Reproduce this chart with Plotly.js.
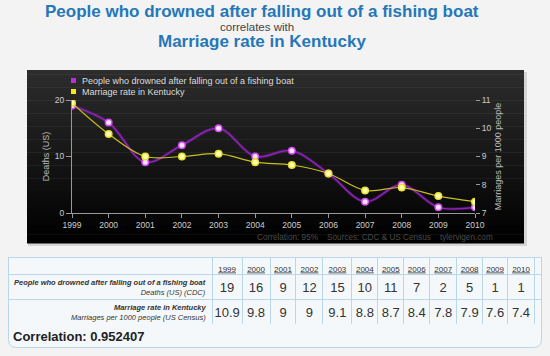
<!DOCTYPE html>
<html><head><meta charset="utf-8">
<script src="https://cdn.plot.ly/plotly-3.0.1.min.js"></script>
<style>html,body{margin:0;padding:0;background:#f3f3f3;overflow:hidden}#chart{width:550px;height:356px}</style>
</head><body><div id="chart"></div>
<script>
// ---- data ----
const years = [1999, 2000, 2001, 2002, 2003, 2004, 2005, 2006, 2007, 2008, 2009, 2010];
const drowned = [19, 16, 9, 12, 15, 10, 11, 7, 2, 5, 1, 1];
const marriage = [10.9, 9.8, 9, 9, 9.1, 8.8, 8.7, 8.4, 7.8, 7.9, 7.6, 7.4];
const seriesNames = ['People who drowned after falling out of a fishing boat', 'Marriage rate in Kentucky'];
const seriesUnits = ['Deaths (US) (CDC)', 'Marriages per 1000 people (US Census)'];
const axisTitles = ['Deaths (US)', 'Marriages per 1000 people'];
const leftTicks = [0, 10, 20];
const rightTicks = [7, 8, 9, 10, 11];
const correlation = 0.952407;
const footer = 'Correlation: 95%\u00a0\u00a0\u00a0 Sources: CDC & US Census\u00a0\u00a0\u00a0 tylervigen.com';

// ---- helpers ----
const W = 550, H = 356;
const px = x => x / W, py = y => 1 - y / H;
const FONT = 'Liberation Sans, Arial, sans-serif';

const shapes = [];
shapes.push({type:'rect', xref:'paper', yref:'paper', x0:px(28), x1:px(527), y0:py(72), y1:py(246),
  fillcolor:'#d6d6d6', line:{width:0}, layer:'below'});
const NB = 40, panelTop = 70, panelBot = 243;
for (let i = 0; i < NB; i++) {
  const y0 = panelTop + (panelBot - panelTop) * i / NB, y1 = panelTop + (panelBot - panelTop) * (i + 1) / NB;
  const t = i / (NB - 1);
  const v = Math.round(44 * (1 - t));
  shapes.push({type:'rect', xref:'paper', yref:'paper', x0:px(27), x1:px(524), y0:py(y1 + 0.5), y1:py(y0),
    fillcolor:`rgb(${v},${v},${v})`, line:{width:0}, layer:'below'});
}
shapes.push({type:'rect', xref:'paper', yref:'paper', x0:px(71), x1:px(76), y0:py(83), y1:py(78),
  fillcolor:'#b52fdc', line:{width:0}});
shapes.push({type:'rect', xref:'paper', yref:'paper', x0:px(71), x1:px(76), y0:py(94), y1:py(89),
  fillcolor:'#f2ea10', line:{width:0}});
function rr(x0, y0, x1, y1, r) {
  const X = px, Y = py;
  return `M ${X(x0 + r)} ${Y(y0)} L ${X(x1 - r)} ${Y(y0)} Q ${X(x1)} ${Y(y0)} ${X(x1)} ${Y(y0 + r)} ` +
    `L ${X(x1)} ${Y(y1 - r)} Q ${X(x1)} ${Y(y1)} ${X(x1 - r)} ${Y(y1)} L ${X(x0 + r)} ${Y(y1)} ` +
    `Q ${X(x0)} ${Y(y1)} ${X(x0)} ${Y(y1 - r)} L ${X(x0)} ${Y(y0 + r)} Q ${X(x0)} ${Y(y0)} ${X(x0 + r)} ${Y(y0)} Z`;
}
shapes.push({type:'path', xref:'paper', yref:'paper', path: rr(8.5, 257.5, 541.5, 347.5, 8),
  fillcolor:'#f5f8fa', line:{color:'#b9d7ea', width:1}, layer:'below'});

const annotations = [
  {text:'<b>' + seriesNames[0] + '</b>', x:px(262), y:py(11), font:{family:FONT, size:17, color:'#2677b8'}},
  {text:'correlates with', x:px(257), y:py(27), font:{family:FONT, size:11.5, color:'#444'}},
  {text:'<b>' + seriesNames[1] + '</b>', x:px(262), y:py(41.5), font:{family:FONT, size:17, color:'#2677b8'}},
  {text:seriesNames[0], x:px(81), y:py(80.5), xanchor:'left', font:{family:FONT, size:9, color:'#dddddd'}},
  {text:seriesNames[1], x:px(81), y:py(91.5), xanchor:'left', font:{family:FONT, size:9, color:'#dddddd'}},
  {text:footer, x:px(494), y:py(237), xanchor:'right', font:{family:FONT, size:8.2, color:'#4a4a4a'}},
  {text:'<b>Correlation: ' + correlation + '</b>', x:px(12), y:py(336), xanchor:'left', font:{family:FONT, size:13, color:'#222'}},
  {text:'<b><i>' + seriesNames[0] + '</i></b><br><i>' + seriesUnits[0] + '</i>', x:px(207), y:py(287), xanchor:'right', align:'right',
    font:{family:FONT, size:7.5, color:'#333'}},
  {text:'<b><i>' + seriesNames[1] + '</i></b><br><i>' + seriesUnits[1] + '</i>', x:px(207), y:py(312), xanchor:'right', align:'right',
    font:{family:FONT, size:7.5, color:'#333'}}
].map(a => Object.assign({xref:'paper', yref:'paper', showarrow:false, xanchor:'center', yanchor:'middle', borderpad:0}, a));

const tickFont = {family:FONT, size:8.5, color:'#cccccc'};
const traces = [
  {x:years, y:drowned, name:seriesNames[0], type:'scatter', mode:'lines', yaxis:'y', showlegend:false, hoverinfo:'skip',
    line:{shape:'spline', smoothing:1, color:'rgba(150,40,200,0.25)', width:3.5}},
  {x:years, y:drowned, name:seriesNames[0], type:'scatter', mode:'lines+markers', yaxis:'y', showlegend:false,
    line:{shape:'spline', smoothing:1, color:'#8d22b8', width:1.5},
    marker:{size:6.5, color:'#fbe2ff', line:{color:'#d24cf0', width:1.5}}},
  {x:years, y:marriage, name:seriesNames[1], type:'scatter', mode:'lines+markers', yaxis:'y2', showlegend:false,
    line:{shape:'spline', smoothing:1, color:'#c9c01c', width:1.2},
    marker:{size:6.5, color:'#ffffb0', line:{color:'#e8e030', width:1.5}}},
  {type:'table', domain:{x:[px(8.5), px(541.5)], y:[py(324), py(257.5)]},
    columnwidth:[204, 30, 28, 26, 27, 29, 26, 26, 26, 27, 26, 25, 27, 7],
    header:{values:[''].concat(years.map(String)).concat(['']),
      height:17, align:'center', font:{family:FONT, size:8, color:'#333', lineposition:'under'},
      fill:{color:'#f5f8fa'}, line:{color:'#b9d7ea', width:1}},
    cells:{values:[['', '']].concat(years.map((y, i) => [drowned[i], marriage[i]])).concat([['', '']]),
      height:25, align:'center',
      font:{family:FONT, size:13, color:'#333'},
      fill:{color:'#f5f8fa'}, line:{color:'#b9d7ea', width:1}}}
];

const layout = {
  width:W, height:H, margin:{l:0, r:0, t:0, b:0},
  paper_bgcolor:'#f3f3f3', plot_bgcolor:'rgba(0,0,0,0)', showlegend:false,
  xaxis:{domain:[px(72), px(475)], range:[1999, 2010], tickvals:years, tickfont:tickFont,
    ticks:'outside', ticklen:4, tickcolor:'#999', showline:true, linecolor:'#999', linewidth:1,
    showgrid:false, zeroline:false, fixedrange:true},
  yaxis:{domain:[py(213), py(100)], range:[0, 20], tickvals:leftTicks, tickfont:tickFont,
    ticks:'outside', ticklen:5, tickcolor:'#999', showline:true, linecolor:'#999', linewidth:1,
    showgrid:false, zeroline:false, fixedrange:true,
    title:{text:axisTitles[0], font:{family:FONT, size:9, color:'#bbbbbb'}, standoff:3}},
  yaxis2:{overlaying:'y', side:'right', anchor:'x', range:[7, 11], tickvals:rightTicks, tickfont:tickFont,
    ticks:'outside', ticklen:4, tickcolor:'#999', showline:false, showgrid:false, zeroline:false, fixedrange:true,
    title:{text:axisTitles[1], font:{family:FONT, size:9, color:'#bbbbbb'}, standoff:4}},
  shapes:shapes, annotations:annotations
};
Plotly.newPlot('chart', traces, layout, {displayModeBar:false, staticPlot:true});
</script></body></html>
